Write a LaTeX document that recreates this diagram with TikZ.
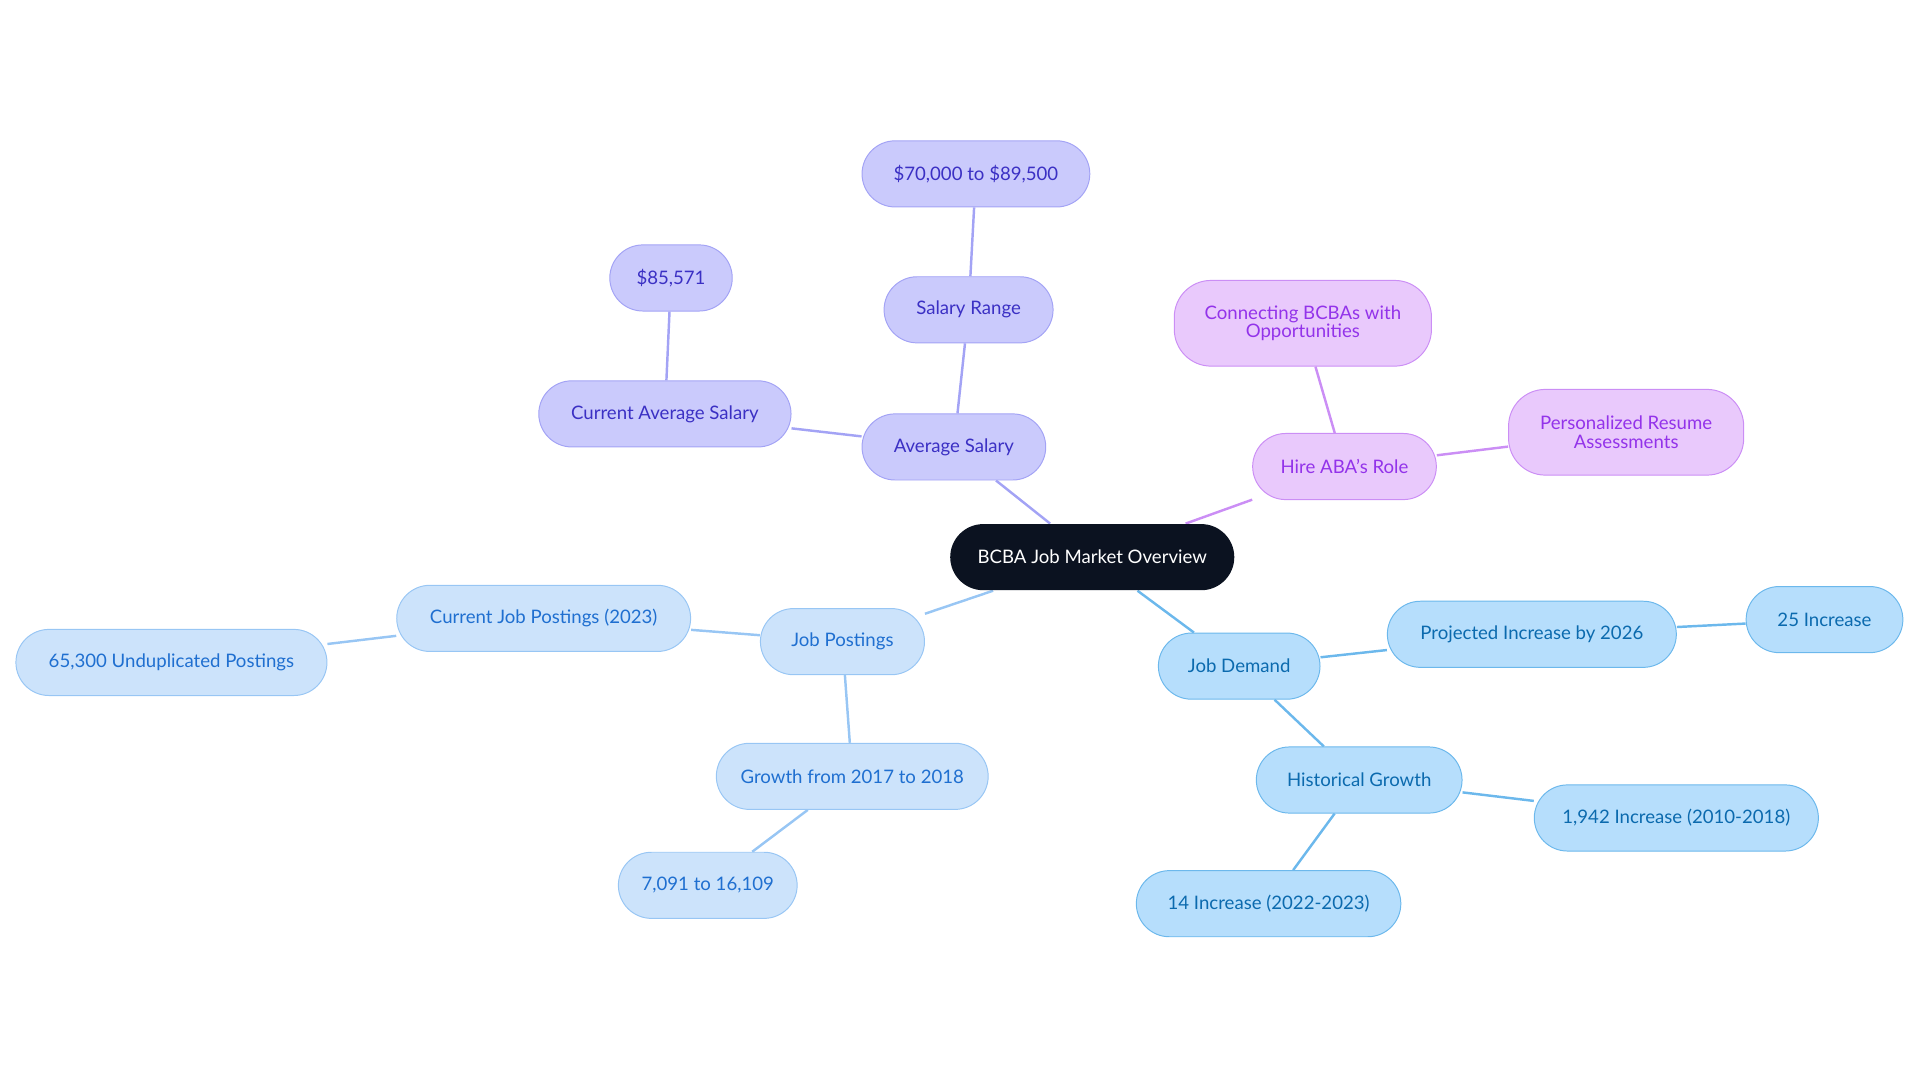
\documentclass[tikz,border=0pt]{standalone}
\usepackage{fontspec}
\setmainfont{Lato}
\usetikzlibrary{positioning, backgrounds}
\definecolor{rootfill}{HTML}{0B1220}
\definecolor{indfill}{HTML}{CACAFC}
\definecolor{inddraw}{HTML}{A3A3F5}
\definecolor{indtext}{HTML}{3B30C4}
\definecolor{purfill}{HTML}{E9C9FC}
\definecolor{purdraw}{HTML}{CB8EF5}
\definecolor{purtext}{HTML}{9333EA}
\definecolor{jpfill}{HTML}{CCE3FB}
\definecolor{jpdraw}{HTML}{98C6F4}
\definecolor{jptext}{HTML}{1F6FD0}
\definecolor{jdfill}{HTML}{B6DEFC}
\definecolor{jddraw}{HTML}{6CB8EC}
\definecolor{jdtext}{HTML}{0B6AAE}
\tikzset{
  bubble/.style={rectangle, rounded corners=13.5pt, minimum height=27pt, align=center, font=\fontsize{7.6}{7.6}\selectfont, inner sep=2pt},
  rootnode/.style={bubble, fill=rootfill, text=white},
  indnode/.style={bubble, fill=indfill, draw=inddraw, text=indtext},
  purnode/.style={bubble, fill=purfill, draw=purdraw, text=purtext},
  jpnode/.style={bubble, fill=jpfill, draw=jpdraw, text=jptext},
  jdnode/.style={bubble, fill=jdfill, draw=jddraw, text=jdtext},
  link/.style={line width=1pt}
}
\begin{document}
\begin{tikzpicture}[x=0.5pt, y=-0.5pt]
    \useasboundingbox (0,0) rectangle (1568,884);
    % Root
    \node[rootnode, minimum width=116pt] (root) at (892,455) {BCBA Job Market Overview};

    % Average salary branch
    \node[indnode, minimum width=75pt] (avg) at (779,365) {Average Salary};
    \node[indnode, minimum width=69pt] (range) at (791,253) {Salary Range};
    \node[indnode, minimum width=93pt] (rangev) at (797,142) {\$70,000 to \$89,500};
    \node[indnode, minimum width=103pt] (cur) at (543,338) {Current Average Salary};
    \node[indnode, minimum width=50pt] (curv) at (548,227) {\$85,571};

    % Hire ABA branch
    \node[purnode, minimum width=75pt] (hire) at (1098,381) {Hire ABA's Role};
    \node[purnode, minimum width=105pt, minimum height=35pt, rounded corners=15pt] (conn) at (1064,264) {Connecting BCBAs with\\Opportunities};
    \node[purnode, minimum width=96pt, minimum height=35pt, rounded corners=15pt] (resume) at (1328,353) {Personalized Resume\\Assessments};

    % Job postings branch
    \node[jpnode, minimum width=67pt] (post) at (688,524) {Job Postings};
    \node[jpnode, minimum width=120pt] (curpost) at (444,505) {Current Job Postings (2023)};
    \node[jpnode, minimum width=127pt] (undup) at (140,541) {65,300 Unduplicated Postings};
    \node[jpnode, minimum width=111pt] (growth) at (696,634) {Growth from 2017 to 2018};
    \node[jpnode, minimum width=73pt] (growthv) at (578,723) {7,091 to 16,109};

    % Job demand branch
    \node[jdnode, minimum width=66pt] (demand) at (1012,544) {Job Demand};
    \node[jdnode, minimum width=118pt] (proj) at (1251,518) {Projected Increase by 2026};
    \node[jdnode, minimum width=64pt] (projv) at (1490,506) {25 Increase};
    \node[jdnode, minimum width=84pt] (hist) at (1110,637) {Historical Growth};
    \node[jdnode, minimum width=116pt] (hista) at (1369,668) {1,942 Increase (2010-2018)};
    \node[jdnode, minimum width=108pt] (histb) at (1036,738) {14 Increase (2022-2023)};

    % Connectors
    \begin{scope}[on background layer]
        \draw[link, inddraw] (root) -- (avg);
        \draw[link, inddraw] (avg) -- (range);
        \draw[link, inddraw] (range) -- (rangev);
        \draw[link, inddraw] (avg) -- (cur);
        \draw[link, inddraw] (cur) -- (curv);
        \draw[link, purdraw] (root) -- (hire);
        \draw[link, purdraw] (hire) -- (conn);
        \draw[link, purdraw] (hire) -- (resume);
        \draw[link, jpdraw] (root) -- (post);
        \draw[link, jpdraw] (post) -- (curpost);
        \draw[link, jpdraw] (curpost) -- (undup);
        \draw[link, jpdraw] (post) -- (growth);
        \draw[link, jpdraw] (growth) -- (growthv);
        \draw[link, jddraw] (root) -- (demand);
        \draw[link, jddraw] (demand) -- (proj);
        \draw[link, jddraw] (proj) -- (projv);
        \draw[link, jddraw] (demand) -- (hist);
        \draw[link, jddraw] (hist) -- (hista);
        \draw[link, jddraw] (hist) -- (histb);
    \end{scope}
\end{tikzpicture}
\end{document}
